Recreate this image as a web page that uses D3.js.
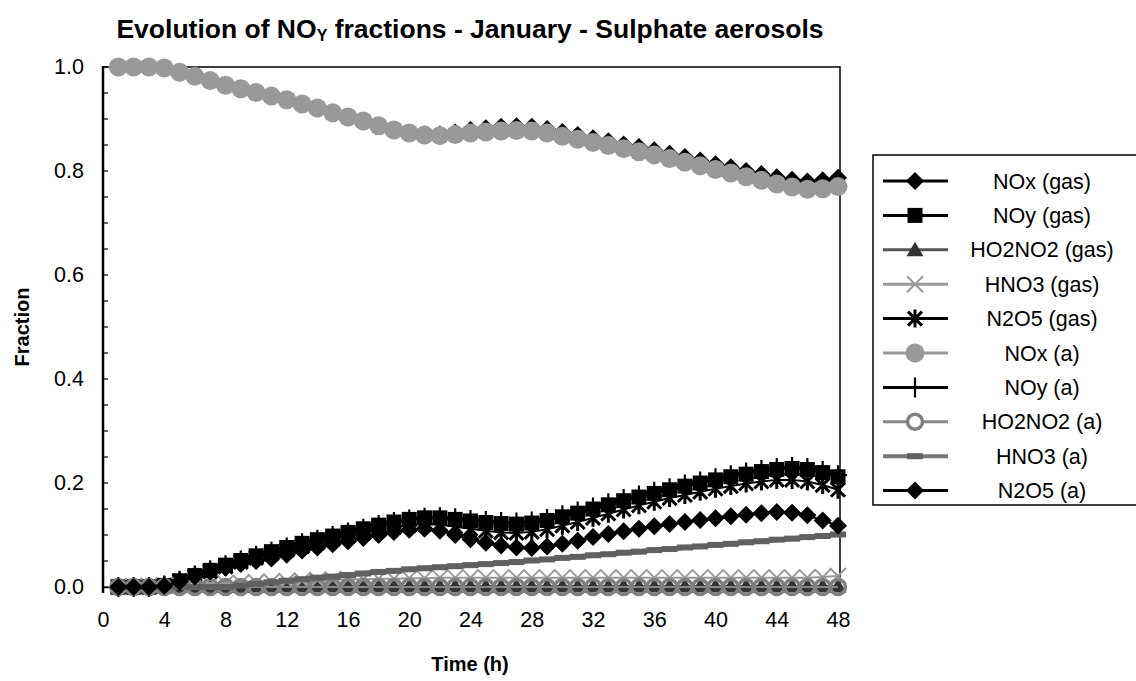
<!DOCTYPE html>
<html><head><meta charset="utf-8">
<script src="https://cdn.jsdelivr.net/npm/d3@7"></script>
<style>
html,body{margin:0;padding:0;background:#fff;}
svg{display:block;font-family:"Liberation Sans",Arial,sans-serif;}
</style></head>
<body>
<svg id="chart" width="1136" height="681"></svg>
<script>
// ---- data ----
const hours = [1,2,3,4,5,6,7,8,9,10,11,12,13,14,15,16,17,18,19,20,21,22,23,24,25,26,27,28,29,30,31,32,33,34,35,36,37,38,39,40,41,42,43,44,45,46,47,48];
const xTicks = [0,4,8,12,16,20,24,28,32,36,40,44,48];
const yTicks = [0.0,0.2,0.4,0.6,0.8,1.0];

const noxGas = [1.000,1.000,1.000,0.998,0.990,0.982,0.974,0.965,0.958,0.951,0.944,0.937,0.929,0.921,0.912,0.904,0.896,0.887,0.879,0.873,0.870,0.870,0.874,0.879,0.882,0.885,0.886,0.885,0.881,0.875,0.869,0.863,0.857,0.851,0.846,0.840,0.833,0.827,0.820,0.813,0.807,0.800,0.794,0.788,0.783,0.780,0.782,0.787];
const noyGas = [0.000,0.000,0.000,0.003,0.012,0.022,0.032,0.042,0.051,0.060,0.068,0.076,0.084,0.091,0.098,0.105,0.112,0.119,0.125,0.130,0.133,0.133,0.130,0.127,0.124,0.122,0.121,0.123,0.128,0.135,0.142,0.150,0.158,0.166,0.173,0.180,0.187,0.194,0.200,0.206,0.212,0.217,0.222,0.226,0.228,0.226,0.220,0.212];
const ho2no2Gas = [0.000,0.000,0.000,0.000,0.001,0.001,0.001,0.001,0.001,0.002,0.002,0.002,0.002,0.002,0.002,0.002,0.002,0.002,0.002,0.002,0.002,0.002,0.002,0.002,0.002,0.002,0.002,0.002,0.002,0.002,0.002,0.002,0.002,0.002,0.002,0.002,0.002,0.002,0.002,0.002,0.002,0.002,0.002,0.002,0.002,0.002,0.002,0.002];
const hno3Gas = [0.000,0.001,0.002,0.003,0.004,0.005,0.006,0.007,0.008,0.009,0.010,0.011,0.012,0.013,0.014,0.015,0.015,0.016,0.016,0.017,0.017,0.018,0.018,0.018,0.018,0.018,0.018,0.018,0.018,0.018,0.018,0.018,0.018,0.018,0.018,0.018,0.018,0.018,0.018,0.018,0.018,0.018,0.018,0.018,0.018,0.018,0.019,0.021];
const n2o5Gas = [0.000,0.000,0.000,0.003,0.011,0.020,0.030,0.039,0.048,0.056,0.064,0.071,0.078,0.085,0.092,0.098,0.104,0.110,0.115,0.119,0.121,0.120,0.116,0.112,0.108,0.105,0.104,0.106,0.111,0.118,0.125,0.133,0.141,0.149,0.157,0.164,0.171,0.177,0.183,0.189,0.194,0.199,0.203,0.206,0.206,0.203,0.196,0.187];
const noxA = [1.000,1.000,1.000,0.998,0.990,0.982,0.974,0.965,0.958,0.951,0.944,0.937,0.929,0.921,0.912,0.904,0.896,0.887,0.879,0.873,0.869,0.868,0.870,0.873,0.875,0.877,0.878,0.877,0.873,0.867,0.861,0.855,0.849,0.843,0.837,0.831,0.824,0.817,0.810,0.803,0.796,0.789,0.782,0.775,0.769,0.765,0.766,0.770];
const noyA = [0.000,0.000,0.000,0.003,0.012,0.022,0.032,0.042,0.051,0.060,0.068,0.076,0.084,0.091,0.098,0.105,0.112,0.119,0.125,0.130,0.133,0.134,0.132,0.129,0.127,0.125,0.124,0.126,0.131,0.138,0.145,0.153,0.161,0.169,0.176,0.183,0.190,0.197,0.203,0.209,0.215,0.220,0.225,0.229,0.231,0.229,0.223,0.215];
const ho2no2A = [0.000,0.000,0.000,0.000,0.000,0.000,0.000,0.000,0.000,0.000,0.000,0.000,0.000,0.000,0.000,0.000,0.000,0.000,0.000,0.000,0.000,0.000,0.000,0.000,0.000,0.000,0.000,0.000,0.000,0.000,0.000,0.000,0.000,0.000,0.000,0.000,0.000,0.000,0.000,0.000,0.000,0.000,0.000,0.000,0.000,0.000,0.000,0.000];
const hno3A = [0.000,0.000,0.000,0.000,0.000,0.000,0.000,0.000,0.003,0.006,0.009,0.012,0.015,0.018,0.020,0.023,0.026,0.029,0.031,0.034,0.036,0.038,0.040,0.042,0.044,0.046,0.048,0.051,0.053,0.056,0.058,0.061,0.063,0.066,0.068,0.071,0.073,0.076,0.078,0.081,0.083,0.086,0.088,0.091,0.093,0.096,0.098,0.101];
const n2o5A = [0.000,0.000,0.000,0.002,0.010,0.020,0.030,0.037,0.044,0.050,0.055,0.062,0.070,0.076,0.082,0.088,0.094,0.100,0.106,0.110,0.112,0.108,0.100,0.092,0.085,0.080,0.076,0.075,0.078,0.083,0.089,0.096,0.102,0.107,0.112,0.117,0.121,0.125,0.129,0.132,0.136,0.139,0.142,0.144,0.143,0.138,0.128,0.118];

const seriesNames = ["NOx (gas)","NOy (gas)","HO2NO2 (gas)","HNO3 (gas)","N2O5 (gas)","NOx (a)","NOy (a)","HO2NO2 (a)","HNO3 (a)","N2O5 (a)"];
const seriesValues = [noxGas,noyGas,ho2no2Gas,hno3Gas,n2o5Gas,noxA,noyA,ho2no2A,hno3A,n2o5A];

// ---- styles ----
const styles = [
  {line:"#000", lw:2, marker:"diamond", fill:"#000", stroke:"none"},
  {line:"#000", lw:2, marker:"square", fill:"#000", stroke:"none"},
  {line:"#555", lw:2, marker:"triangle", fill:"#333", stroke:"none"},
  {line:"#999", lw:2, marker:"x", fill:"none", stroke:"#999"},
  {line:"#000", lw:2, marker:"asterisk", fill:"none", stroke:"#000"},
  {line:"#999", lw:2, marker:"circle", fill:"#999", stroke:"none"},
  {line:"#000", lw:2, marker:"plus", fill:"none", stroke:"#000"},
  {line:"#888", lw:2, marker:"ring", fill:"none", stroke:"#808080"},
  {line:"#777", lw:5, marker:"dash", fill:"#606060", stroke:"none"},
  {line:"#000", lw:2, marker:"diamond", fill:"#000", stroke:"none"}
];
function markerPath(type){
  switch(type){
    case "diamond": return "M0,-9L9,0L0,9L-9,0Z";
    case "square": return "M-7.5,-7.5H7.5V7.5H-7.5Z";
    case "triangle": return "M0,-8L8.5,6.5L-8.5,6.5Z";
    case "x": return "M-8,-8L8,8M-8,8L8,-8";
    case "asterisk": return "M-7,-7L7,7M-7,7L7,-7M0,-9L0,9";
    case "circle": return d3.symbol(d3.symbolCircle, Math.PI*9.5*9.5)();
    case "ring": return d3.symbol(d3.symbolCircle, Math.PI*7.5*7.5)();
    case "plus": return "M-9,0H9M0,-10V10";
    case "dash": return "M-8,-3H8V3H-8Z";
  }
}
function strokeW(type){ return type==="asterisk"?3:(type==="ring"?3.5:(type==="plus"?2.2:2)); }

// ---- chart ----
const svg = d3.select("#chart");
const x = d3.scaleLinear().domain([0,48]).range([103,838]);
const y = d3.scaleLinear().domain([0,1]).range([587,67]);

// Title
const title = svg.append("text").attr("x",470).attr("y",38).attr("text-anchor","middle")
  .attr("font-size",26.5).attr("font-weight","bold");
title.append("tspan").text("Evolution of NO");
title.append("tspan").attr("font-size",16).attr("dy",3).text("Y");
title.append("tspan").attr("dy",-3).text(" fractions - January - Sulphate aerosols");

// plot border (top/right)
svg.append("path").attr("d",`M${x(0)},${y(1)}H${x(48)+2}V${y(0)+6}`).attr("fill","none").attr("stroke","#000").attr("stroke-width",1.5);

// y axis
const yAxis = d3.axisLeft(y).tickValues(yTicks).tickFormat(d3.format(".1f")).tickSize(0).tickPadding(19);
const gy = svg.append("g").attr("transform",`translate(${x(0)},0)`).call(yAxis);
gy.select(".domain").remove();
gy.selectAll("text").attr("font-size",21.5).attr("font-family","Liberation Sans, Arial, sans-serif").attr("fill","#000");
// inside minor ticks every 0.05
const minor = d3.range(0,21).map(i=>i/20);
svg.append("g").selectAll("line").data(minor).join("line")
  .attr("x1",x(0)).attr("x2",x(0)+5).attr("y1",d=>y(d)).attr("y2",d=>y(d))
  .attr("stroke","#000").attr("stroke-width",1.2);
svg.append("line").attr("x1",x(0)).attr("x2",x(0)).attr("y1",y(1)-1).attr("y2",y(0)+6)
  .attr("stroke","#000").attr("stroke-width",2.5);

// x axis
const xAxis = d3.axisBottom(x).tickValues(xTicks).tickFormat(d3.format("d")).tickSize(0).tickPadding(25);
const gx = svg.append("g").attr("transform",`translate(0,${y(0)})`).call(xAxis);
gx.select(".domain").attr("stroke","#000").attr("stroke-width",1.5);
gx.selectAll("text").attr("font-size",21.5).attr("font-family","Liberation Sans, Arial, sans-serif").attr("fill","#000");

// axis titles
svg.append("text").attr("x",470).attr("y",671).attr("text-anchor","middle")
  .attr("font-size",20).attr("font-weight","bold").text("Time (h)");
svg.append("text").attr("transform","translate(29,327) rotate(-90)").attr("text-anchor","middle")
  .attr("font-size",20).attr("font-weight","bold").text("Fraction");

// series
const line = d3.line().x(d=>x(d[0])).y(d=>y(d[1]));
seriesValues.forEach((vals,i)=>{
  const st = styles[i];
  const pts = hours.map((h,k)=>[h,vals[k]]);
  const g = svg.append("g");
  g.append("path").datum(pts).attr("d",line).attr("fill","none")
    .attr("stroke",st.line).attr("stroke-width",st.lw);
  g.selectAll("path.m").data(pts).join("path").attr("class","m")
    .attr("transform",d=>`translate(${x(d[0])},${y(d[1])})`)
    .attr("d",markerPath(st.marker))
    .attr("fill",st.fill).attr("stroke",st.stroke).attr("stroke-width",strokeW(st.marker));
});

// legend
const lg = svg.append("g");
lg.append("rect").attr("x",873).attr("y",155).attr("width",300).attr("height",350)
  .attr("fill","#fff").attr("stroke","#000").attr("stroke-width",1.5);
seriesNames.forEach((name,i)=>{
  const st = styles[i];
  const cy = 181 + i*34.4;
  lg.append("line").attr("x1",883).attr("x2",948).attr("y1",cy).attr("y2",cy)
    .attr("stroke",st.line).attr("stroke-width",Math.max(3,st.lw-1));
  lg.append("path").attr("transform",`translate(915,${cy})`).attr("d",markerPath(st.marker))
    .attr("fill",st.marker==="ring"?"#fff":st.fill).attr("stroke",st.stroke).attr("stroke-width",strokeW(st.marker))
    .attr("data-legend",name);
  lg.append("text").attr("x",1042).attr("y",cy+7.5).attr("text-anchor","middle")
    .attr("font-size",21.5).text(name);
});
</script>
</body></html>
